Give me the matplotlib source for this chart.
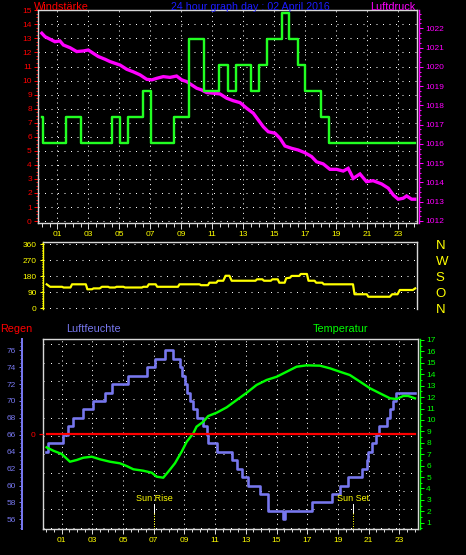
import numpy as np
import matplotlib
matplotlib.use('Agg')
import matplotlib.pyplot as plt
from matplotlib.ticker import FixedLocator, MultipleLocator, NullLocator
import matplotlib.transforms as mtransforms

plt.rcParams['font.family'] = ['Liberation Sans', 'DejaVu Sans']

# ---------------- data ----------------
title = '24 hour graph day : 02 April 2016'
hour_ticks = [1, 3, 5, 7, 9, 11, 13, 15, 17, 19, 21, 23]
hour_labels = ['01', '03', '05', '07', '09', '11', '13', '15', '17', '19', '21', '23']

wind_hours = [0, 0.05, 1.56, 2.53, 4.51, 5.05, 5.54, 6.51, 7.05, 8.53, 9.5, 10.49, 11.45,
              12.01, 12.5, 13.48, 14.01, 14.5, 15.48, 15.97, 16.51, 16.98, 17.99, 18.53, 24.07]
wind_speed = [7.41, 5.56, 7.41, 5.56, 7.41, 5.56, 7.41, 9.26, 5.56, 7.41, 12.96, 9.26, 11.11,
              9.26, 11.11, 9.26, 11.11, 12.96, 14.82, 12.96, 11.11, 9.26, 7.41, 5.56, 5.56]

press_hours = [0.0, 0.21, 0.53, 0.85, 1.17, 1.39, 1.82, 2.25, 2.68, 3.0, 3.32, 3.65, 4.08, 4.4,
               4.72, 5.05, 5.48, 5.9, 6.34, 6.77, 7.1, 7.41, 7.84, 8.27, 8.7, 9.03, 9.35, 9.67,
               9.99, 10.31, 10.64, 11.06, 11.5, 11.93, 12.35, 12.79, 13.22, 13.65, 13.97, 14.29,
               14.61, 15.05, 15.37, 15.69, 16.12, 16.55, 16.98, 17.41, 17.73, 18.16, 18.59,
               19.02, 19.45, 19.77, 20.1, 20.53, 20.95, 21.38, 21.93, 22.36, 22.68, 23.0,
               23.32, 23.54, 23.86, 24.07]
press_hpa = [1021.74, 1021.56, 1021.43, 1021.30, 1021.34, 1021.13, 1020.99, 1020.79, 1020.82,
             1020.87, 1020.70, 1020.53, 1020.39, 1020.27, 1020.18, 1020.09, 1019.87, 1019.74,
             1019.58, 1019.35, 1019.32, 1019.40, 1019.49, 1019.45, 1019.52, 1019.32, 1019.23,
             1019.06, 1018.89, 1018.80, 1018.66, 1018.63, 1018.59, 1018.37, 1018.24, 1018.14,
             1017.85, 1017.59, 1017.24, 1016.89, 1016.63, 1016.55, 1016.29, 1015.89, 1015.77,
             1015.68, 1015.54, 1015.34, 1015.07, 1014.96, 1014.68, 1014.68, 1014.59, 1014.73,
             1014.21, 1014.44, 1014.04, 1014.09, 1013.92, 1013.70, 1013.35, 1013.13, 1013.18,
             1013.30, 1013.13, 1013.13]

dir_hours = [0.0, 0.22, 1.0, 1.1, 1.55, 1.65, 2.55, 2.65, 2.95, 3.05, 3.45, 3.6, 4.0, 4.1, 4.45,
             4.55, 5.0, 5.1, 6.2, 6.3, 6.55, 6.65, 7.1, 7.2, 8.55, 8.65, 9.95, 10.05, 10.5, 10.6,
             11.05, 11.15, 11.5, 11.65, 11.9, 12.05, 13.6, 13.7, 14.05, 14.15, 14.6, 14.7, 15.05,
             15.15, 15.5, 15.6, 15.85, 15.95, 16.45, 16.55, 16.95, 17.05, 17.45, 17.55, 17.95,
             18.05, 19.95, 20.05, 20.85, 20.95, 22.35, 22.5, 22.85, 23.0, 23.85, 24.0]
dir_deg = [135, 121, 121, 117, 117, 135, 135, 107, 107, 112, 112, 121, 121, 117, 117,
           121, 121, 117, 117, 121, 121, 135, 135, 121, 121, 135, 135, 130, 130, 144,
           144, 155, 155, 183, 183, 155, 155, 163, 163, 155, 155, 163, 163,
           144, 144, 169, 172, 182, 182, 193, 193, 155, 155, 144, 144,
           135, 135, 79, 79, 65, 65, 79, 79, 103, 103, 112]
dir_tick_deg = [0, 90, 180, 270, 360]
dir_names = ['N', 'O', 'S', 'W', 'N']

hum_hours = [0.0, 0.13, 1.11, 1.39, 1.72, 2.37, 3.02, 3.82, 4.3, 5.34, 6.54, 7.08, 7.73, 8.23,
             8.71, 8.82, 9.03, 9.2, 9.36, 9.53, 9.79, 10.23, 10.45, 10.55, 11.1, 12.08, 12.4,
             12.73, 13.16, 13.92, 14.46, 15.44, 15.55, 17.29, 18.59, 19.13, 19.68, 20.54,
             20.87, 20.98, 21.24, 21.48, 21.7, 22.18, 22.39, 22.57, 22.78, 24.02]
hum_pct = [64, 65, 66, 67, 68, 69, 70, 71, 72, 73, 74, 75, 76, 75, 74, 73, 72, 71, 70, 69,
           68, 67, 66, 65, 64, 63, 62, 61, 60, 59, 57, 56, 57, 58, 59, 60, 61, 62, 63, 64,
           65, 66, 67, 68, 69, 70, 71, 71]

temp_hours = [0.02, 0.46, 1.0, 1.54, 1.98, 2.41, 2.96, 3.5, 4.15, 4.8, 5.24, 5.67, 6.32, 6.87,
              7.19, 7.62, 7.95, 8.38, 8.82, 9.15, 9.58, 9.79, 10.23, 10.55, 11.1, 11.75, 12.4,
              13.06, 13.7, 14.36, 15.01, 15.66, 16.31, 16.96, 17.83, 18.48, 19.13, 19.78,
              20.44, 21.09, 21.74, 22.4, 22.83, 23.26, 23.58, 24.02]
temp_c = [7.60, 7.30, 7.02, 6.34, 6.49, 6.69, 6.78, 6.55, 6.34, 6.20, 5.96, 5.68, 5.55, 5.38,
          5.03, 4.94, 5.47, 6.20, 7.22, 8.09, 8.83, 9.41, 9.84, 10.34, 10.63, 11.10, 11.74,
          12.38, 13.06, 13.50, 13.78, 14.22, 14.66, 14.78, 14.75, 14.52, 14.22, 13.93, 13.35,
          12.77, 12.33, 11.89, 11.83, 12.10, 12.10, 11.89]

rain_hours = [0.02, 24.05]
rain_mm = [0, 0]

sunrise_h = 7.04
sunset_h = 20.0

# ---------------- style ----------------
W, H, DPI = 466, 555, 100
RED = '#ff0000'
MAG = '#ff00ff'
GREEN = '#00ff00'
WGREEN = '#22ff22'
YEL = '#ffff00'
HUM = '#7777ee'
BOX = '#d8d8d8'
GRIDC = '#ffffff'
BLUE = '#1c1cff'
PX = 72.0 / DPI  # points per pixel

fig = plt.figure(figsize=(W / DPI, H / DPI), dpi=DPI, facecolor='black')


def px_axes(left, top, right, bottom):
    ax = fig.add_axes([left / W, 1 - bottom / H, (right - left) / W, (bottom - top) / H])
    ax.set_facecolor('black')
    return ax


def ftext(x, y, s, **kw):
    fig.text(x / W, 1 - y / H, s, **kw)


HDOT = (0, (1, 5.5))
VDOT = (0, (1, 3.8))

# ================= TOP PANEL =================
ax1 = px_axes(38.3, 10.3, 417.3, 223.3)
ax1.set_xlim(-0.226, 24.23)
ax1.set_ylim(-0.16, 15.0)
ax1r = ax1.twinx()
ax1r.set_ylim(1011.88, 1022.93)

for s in ax1.spines.values():
    s.set_color(BOX)
    s.set_linewidth(1.4 * PX)
for k in ['top', 'bottom', 'left']:
    ax1r.spines[k].set_visible(False)
ax1r.spines['right'].set_position(('outward', 2 * PX))
ax1r.spines['right'].set_color(MAG)
ax1r.spines['right'].set_linewidth(1.4 * PX)
ax1r.patch.set_visible(False)

ax1.xaxis.set_major_locator(FixedLocator(hour_ticks))
ax1.set_xticklabels(hour_labels)
ax1.xaxis.set_minor_locator(MultipleLocator(0.5))
ax1.tick_params(axis='x', which='major', colors=BOX, labelcolor=YEL, length=5.5 * PX,
                width=1 * PX, pad=2.5 * PX, labelsize=6)
ax1.tick_params(axis='x', which='minor', colors=BOX, length=3.5 * PX, width=1 * PX)
ax1.yaxis.set_major_locator(FixedLocator(range(0, 16)))
ax1.yaxis.set_minor_locator(MultipleLocator(0.25))
ax1.tick_params(axis='y', which='major', colors=RED, labelcolor=RED, length=4.5 * PX,
                width=1 * PX, pad=2 * PX, labelsize=6)
ax1.tick_params(axis='y', which='minor', colors=RED, length=2 * PX, width=1 * PX)

ax1r.yaxis.set_major_locator(FixedLocator(range(1012, 1023)))
ax1r.yaxis.set_minor_locator(MultipleLocator(0.25))
ax1r.tick_params(axis='y', which='major', colors=MAG, labelcolor=MAG, length=3.5 * PX,
                 width=1 * PX, pad=3 * PX, labelsize=6)
ax1r.tick_params(axis='y', which='minor', colors=MAG, length=2 * PX, width=1 * PX)

ax1.set_axisbelow(True)
ax1.grid(True, axis='y', which='major', color=GRIDC, linestyle=HDOT, linewidth=1 * PX)
ax1.grid(True, axis='x', which='major', color=GRIDC, linestyle=VDOT, linewidth=1 * PX)

ax1.plot(press_hours, press_hpa, color=MAG, lw=3.3 * PX, transform=ax1r.transData,
         zorder=2, solid_joinstyle='miter')
ax1.plot(wind_hours, wind_speed, color=WGREEN, lw=2.4 * PX, drawstyle='steps-post',
         zorder=3, clip_on=False)

ftext(34, 9.5, 'Windstärke', color=RED, fontsize=7.8, ha='left', va='baseline')
ftext(250, 9.5, title, color=BLUE, fontsize=7.7, ha='center', va='baseline')
ftext(415.5, 9.5, 'Luftdruck', color=MAG, fontsize=7.8, ha='right', va='baseline')

# ================= MIDDLE PANEL =================
ax2 = px_axes(42.7, 241.7, 416.7, 309.3)
ax2.set_xlim(-0.26, 24.1)
ax2.set_ylim(-5.6, 374.6)
ax2.spines['bottom'].set_visible(False)
ax2.spines['left'].set_color(YEL)
ax2.spines['left'].set_linewidth(1.4 * PX)
ax2.spines['top'].set_color(BOX)
ax2.spines['right'].set_color(BOX)
ax2.spines['top'].set_linewidth(1.4 * PX)
ax2.spines['right'].set_linewidth(1.4 * PX)
ax2.xaxis.set_major_locator(NullLocator())
ax2.yaxis.set_major_locator(FixedLocator(dir_tick_deg))
ax2.yaxis.set_minor_locator(MultipleLocator(10))
ax2.tick_params(axis='y', which='major', colors=YEL, labelcolor=YEL, length=3 * PX,
                width=1 * PX, pad=3 * PX, labelsize=6)
ax2.tick_params(axis='y', which='minor', colors=YEL, length=1.5 * PX, width=1 * PX)
ax2.set_axisbelow(True)
ax2.grid(True, axis='y', which='major', color=GRIDC, linestyle=HDOT, linewidth=1 * PX)
ax2.plot(dir_hours, dir_deg, color=YEL, lw=2.2 * PX, zorder=3)

ax2r = ax2.twinx()
ax2r.set_ylim(ax2.get_ylim())
for s in ax2r.spines.values():
    s.set_visible(False)
ax2r.patch.set_visible(False)
ax2r.yaxis.set_major_locator(FixedLocator(dir_tick_deg))
ax2r.set_yticklabels(dir_names)
ax2r.tick_params(axis='y', which='both', length=0, pad=19 * PX, labelsize=9.5,
                 labelcolor=YEL)

# ================= BOTTOM PANEL =================
ax3 = px_axes(42.7, 339.3, 417.7, 529.3)
ax3.set_xlim(-0.235, 24.2)
ax3.set_ylim(0, 1)
for s in ax3.spines.values():
    s.set_color(BOX)
    s.set_linewidth(1.4 * PX)
ax3.xaxis.set_major_locator(FixedLocator(hour_ticks))
ax3.set_xticklabels(hour_labels)
ax3.xaxis.set_minor_locator(MultipleLocator(0.5))
ax3.tick_params(axis='x', which='major', colors=BOX, labelcolor=YEL, length=5 * PX,
                width=1 * PX, pad=2.5 * PX, labelsize=6)
ax3.tick_params(axis='x', which='minor', colors=BOX, length=3 * PX, width=1 * PX)
ax3.yaxis.set_major_locator(FixedLocator(np.linspace(0.0084, 0.9737, 11)))
ax3.tick_params(axis='y', which='both', left=False, right=False, labelleft=False)
ax3.set_axisbelow(True)
ax3.grid(True, axis='y', which='major', color=GRIDC, linestyle=(0, (1, 6.5)), linewidth=1 * PX)
ax3.grid(True, axis='x', which='major', color=GRIDC, linestyle=VDOT, linewidth=1 * PX)

# humidity axis (left, outward)
axh = ax3.twinx()
axh.set_ylim(54.82, 77.3)
axh.patch.set_visible(False)
for k in ['top', 'bottom', 'right']:
    axh.spines[k].set_visible(False)
axh.yaxis.tick_left()
axh.spines['left'].set_visible(True)
axh.spines['left'].set_position(('outward', 21 * PX))
axh.spines['left'].set_color(HUM)
axh.spines['left'].set_linewidth(2 * PX)
axh.yaxis.set_major_locator(FixedLocator(range(56, 77, 2)))
axh.yaxis.set_minor_locator(MultipleLocator(0.5))
axh.tick_params(axis='y', which='major', colors=HUM, labelcolor=HUM, length=3.5 * PX,
                width=1 * PX, pad=2 * PX, labelsize=6)
axh.tick_params(axis='y', which='minor', colors=HUM, length=2 * PX, width=1 * PX)

# temperature axis (right)
axt = ax3.twinx()
axt.set_ylim(0.422, 17.06)
axt.patch.set_visible(False)
for k in ['top', 'bottom', 'left']:
    axt.spines[k].set_visible(False)
axt.spines['right'].set_position(('outward', 2 * PX))
axt.spines['right'].set_color(GREEN)
axt.spines['right'].set_linewidth(1.4 * PX)
axt.yaxis.set_major_locator(FixedLocator(range(1, 18)))
axt.yaxis.set_minor_locator(MultipleLocator(0.5))
axt.tick_params(axis='y', which='major', colors=GREEN, labelcolor=GREEN, length=3.5 * PX,
                width=1 * PX, pad=3 * PX, labelsize=6)
axt.tick_params(axis='y', which='minor', colors=GREEN, length=2 * PX, width=1 * PX)

# rain axis (left, only 0)
axr = ax3.twinx()
axr.set_ylim(-1, 1)
axr.patch.set_visible(False)
for s in axr.spines.values():
    s.set_visible(False)
axr.yaxis.tick_left()
axr.yaxis.set_major_locator(FixedLocator([0]))
axr.tick_params(axis='y', which='major', colors=RED, labelcolor=RED, length=4 * PX,
                width=1.2 * PX, pad=3 * PX, labelsize=6)

# data lines drawn in ax3 through the twin axes scales
ax3.plot(hum_hours, hum_pct, color=HUM, lw=2.6 * PX, drawstyle='steps-post',
         transform=axh.transData, zorder=2)
ax3.plot(temp_hours, temp_c, color=GREEN, lw=2.4 * PX, transform=axt.transData, zorder=3)
ax3.plot(rain_hours, rain_mm, color=RED, lw=2.2 * PX, transform=axr.transData, zorder=4)

# sun rise / sun set markers
bt = mtransforms.blended_transform_factory(ax3.transData, ax3.transAxes)
for h, lab in [(sunrise_h, 'Sun Rise'), (sunset_h, 'Sun Set')]:
    ax3.text(h, 0.149, lab, transform=bt, color=YEL, fontsize=6.5, ha='center',
             va='baseline', zorder=5)
    ax3.plot([h, h], [0.133, 0.084], transform=bt, color='white', lw=1 * PX, zorder=5)
    ax3.plot([h, h], [0.084, 0.0], transform=bt, color=YEL, lw=1 * PX,
             linestyle=(0, (1, 1.5)), zorder=5)

ftext(0.5, 331.5, 'Regen', color=RED, fontsize=7.8, ha='left', va='baseline')
ftext(66.5, 331.5, 'Luftfeuchte', color=HUM, fontsize=7.8, ha='left', va='baseline')
ftext(313, 331.5, 'Temperatur', color=GREEN, fontsize=7.8, ha='left', va='baseline')

fig.savefig('out.png', dpi=DPI, facecolor='black')
